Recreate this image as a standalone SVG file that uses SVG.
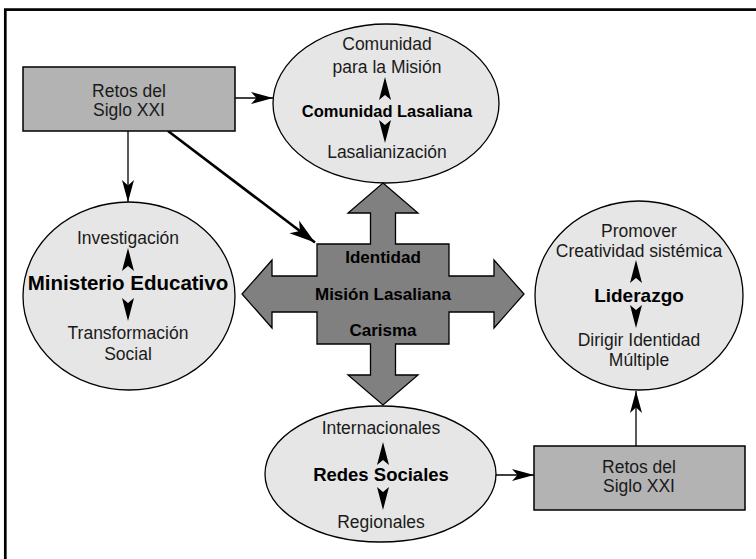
<svg xmlns="http://www.w3.org/2000/svg" xmlns:xlink="http://www.w3.org/1999/xlink" width="756" height="559" viewBox="0 0 756 559">
<style>
  .ell { fill: #e6e6e6; stroke: #000; stroke-width: 1.3; }
  .box { fill: #b3b3b3; stroke: #000; stroke-width: 1.5; }
  .cross { fill: #808080; stroke: #000; stroke-width: 1.3; }
  text { font-family: "Liberation Sans", Arial, sans-serif; text-anchor: middle; fill: #1a1a1a; }
  .r { font-size: 17.5px; }
  .b { font-weight: bold; fill: #000; }
  .conn { fill: none; stroke: #000; stroke-width: 1.3; }
  .thick { stroke-width: 2.6; }
  .head { fill: #000; }
</style>
<defs>
  <marker id="ah" markerUnits="userSpaceOnUse" orient="auto" refX="0" refY="0" markerWidth="30" markerHeight="20" overflow="visible">
    <path d="M0,0 L-22,-6 L-16.5,0 L-22,6 Z" fill="#000"/>
  </marker>
  <marker id="ahb" markerUnits="userSpaceOnUse" orient="auto" refX="0" refY="0" markerWidth="30" markerHeight="20" overflow="visible">
    <path d="M0,0 L-26,-8 L-19,0 L-26,8 Z" fill="#000"/>
  </marker>
  <path id="up" class="head" d="M0,0 L6,23 L0,18 L-6,23 Z"/>
  <path id="dn" class="head" d="M0,0 L6,-23 L0,-18 L-6,-23 Z"/>
</defs>

<rect x="5.3" y="9.6" width="800" height="600" fill="none" stroke="#000" stroke-width="2.7"/>

<g id="connectors">
  <path class="conn" d="M235,98 L273,98" marker-end="url(#ah)"/>
  <path class="conn" d="M128,131 L128,202" marker-end="url(#ah)"/>
  <path class="conn thick" d="M168,131 L315,242.5" marker-end="url(#ahb)"/>
  <path class="conn" d="M495,475 L534,475" marker-end="url(#ah)"/>
  <path class="conn" d="M636,446 L636,391" marker-end="url(#ah)"/>
</g>

<g id="retos-top">
  <rect class="box" x="23" y="67" width="212" height="64"/>
  <text class="r" x="129" y="97">Retos del</text>
  <text class="r" x="129" y="116">Siglo XXI</text>
</g>

<g id="comunidad">
  <ellipse class="ell" cx="386" cy="103.5" rx="113" ry="79.5"/>
  <text class="r" x="387" y="50">Comunidad</text>
  <text class="r" x="387" y="73">para la Misión</text>
  <use xlink:href="#up" x="385" y="77"/>
  <text class="b" x="387" y="117" font-size="16.5">Comunidad Lasaliana</text>
  <use xlink:href="#dn" x="385" y="143"/>
  <text class="r" x="387" y="158">Lasalianización</text>
</g>

<g id="ministerio">
  <ellipse class="ell" cx="129" cy="296" rx="106" ry="94"/>
  <text class="r" x="128" y="244">Investigación</text>
  <use xlink:href="#up" x="128" y="248"/>
  <text class="b" x="128" y="290" font-size="20.5">Ministerio Educativo</text>
  <use xlink:href="#dn" x="128" y="321"/>
  <text class="r" x="128" y="339">Transformación</text>
  <text class="r" x="128" y="360">Social</text>
</g>

<g id="centro">
  <path class="cross" d="M383,183 L418,213 L395.5,213 L395.5,244 L449,244 L449,276 L494,276 L494,260 L524,294 L494,328 L494,312 L449,312 L449,344 L395.5,344 L395.5,375 L418,375 L383,405 L348,375 L370.5,375 L370.5,344 L317,344 L317,312 L272,312 L272,328 L242,294 L272,260 L272,276 L317,276 L317,244 L370.5,244 L370.5,213 L348,213 Z"/>
  <text class="b" x="383" y="263" font-size="17">Identidad</text>
  <text class="b" x="383" y="300" font-size="17">Misión Lasaliana</text>
  <text class="b" x="383" y="336" font-size="17">Carisma</text>
</g>

<g id="liderazgo">
  <ellipse class="ell" cx="639" cy="295.5" rx="104" ry="94.5"/>
  <text class="r" x="639" y="237">Promover</text>
  <text class="r" x="639" y="257">Creatividad sistémica</text>
  <use xlink:href="#up" x="636" y="260"/>
  <text class="b" x="639" y="302" font-size="19">Liderazgo</text>
  <use xlink:href="#dn" x="636" y="328"/>
  <text class="r" x="639" y="346">Dirigir Identidad</text>
  <text class="r" x="639" y="366">Múltiple</text>
</g>

<g id="redes">
  <ellipse class="ell" cx="380.5" cy="474" rx="115.5" ry="68"/>
  <text class="r" x="381" y="434">Internacionales</text>
  <use xlink:href="#up" x="383" y="442"/>
  <text class="b" x="381" y="481" font-size="18.5">Redes Sociales</text>
  <use xlink:href="#dn" x="383" y="510"/>
  <text class="r" x="381" y="528">Regionales</text>
</g>

<g id="retos-bottom">
  <rect class="box" x="534" y="446" width="211" height="64"/>
  <text class="r" x="639" y="473">Retos del</text>
  <text class="r" x="639" y="492">Siglo XXI</text>
</g>
</svg>
